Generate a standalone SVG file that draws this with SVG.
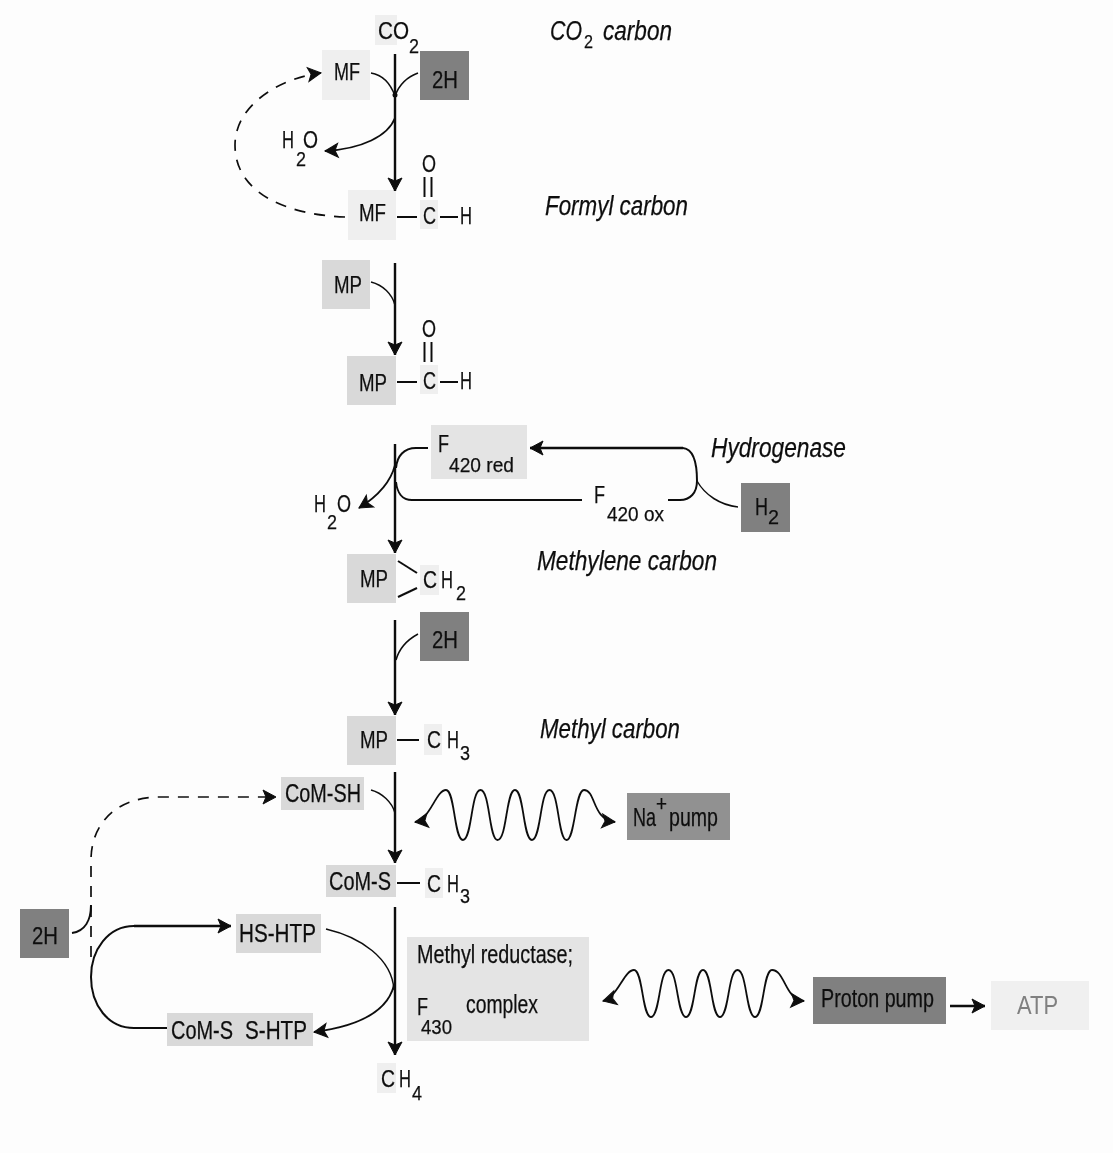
<svg xmlns="http://www.w3.org/2000/svg" width="1113" height="1153" viewBox="0 0 1113 1153">
<style>
text{font-family:"Liberation Sans",Arial,sans-serif;fill:#111;stroke:#111;stroke-width:.25;font-size:24px}
.s{font-size:21px}
.m{font-size:21px}
.k{font-size:25px}
.i{font-style:italic;font-size:27px}
.d{fill:#808080}
.l{fill:#d9d9d9}
.p{fill:#efefef}
.e{fill:#e4e4e4}
.c path,.c line{fill:none;stroke:#111;stroke-width:2}
.c circle{fill:#111}
.c .a{stroke-width:2.4;marker-end:url(#h)}
.c .f{stroke-width:1.8;marker-end:url(#h)}
.c .b{stroke-width:1.8;marker-start:url(#h);marker-end:url(#h)}
.c .t{stroke-width:1.5}
.c .n{stroke-dasharray:11 9;stroke-width:1.7;marker-end:url(#h)}
</style>
<defs>
<marker id="h" markerUnits="userSpaceOnUse" viewBox="-17 -9 19 18" refX="0" refY="0" markerWidth="19" markerHeight="18" orient="auto-start-reverse"><path d="M-13 -7L0 0L-13 7L-10 0Z" fill="#111" stroke="#111" stroke-width="1"/></marker>
<filter id="soft" x="0" y="0" width="100%" height="100%"><feGaussianBlur stdDeviation="0.45"/></filter>
</defs>
<rect width="1113" height="1153" fill="#fdfdfd"/>
<g filter="url(#soft)">
<g id="co2"><rect class="p" x="375" y="15" width="22" height="30"/><text x="378" y="39"><tspan textLength="31" lengthAdjust="spacingAndGlyphs">CO</tspan><tspan class="s" x="409" y="53" textLength="10" lengthAdjust="spacingAndGlyphs">2</tspan></text></g>
<g id="label-co2-carbon"><text class="i" x="550" y="40"><tspan textLength="32" lengthAdjust="spacingAndGlyphs">CO</tspan><tspan font-size="18" font-style="normal" x="584" y="48" textLength="9" lengthAdjust="spacingAndGlyphs">2</tspan><tspan x="603" y="40" textLength="69" lengthAdjust="spacingAndGlyphs">carbon</tspan></text></g>
<g id="mf-top"><rect class="p" x="322" y="50" width="48" height="50"/><text x="334" y="80" textLength="26" lengthAdjust="spacingAndGlyphs">MF</text></g>
<g id="h2-top"><rect class="d" x="420" y="51" width="49" height="49"/><text x="432" y="88" textLength="26" lengthAdjust="spacingAndGlyphs">2H</text></g>
<g id="h2o-top"><text x="282" y="148"><tspan textLength="12" lengthAdjust="spacingAndGlyphs">H</tspan><tspan class="s" x="296" y="166" textLength="10" lengthAdjust="spacingAndGlyphs">2</tspan><tspan x="303" y="148" textLength="15" lengthAdjust="spacingAndGlyphs">O</tspan></text></g>
<g id="mf-formyl"><rect class="p" x="348" y="190" width="48" height="50"/><rect class="p" x="420" y="200" width="18" height="29"/><text x="359" y="221" textLength="27" lengthAdjust="spacingAndGlyphs">MF</text><text x="423" y="224" textLength="13" lengthAdjust="spacingAndGlyphs">C</text><text x="460" y="224" textLength="12" lengthAdjust="spacingAndGlyphs">H</text><text x="422" y="172" textLength="14" lengthAdjust="spacingAndGlyphs">O</text></g>
<g id="label-formyl"><text class="i" x="545" y="215" textLength="143" lengthAdjust="spacingAndGlyphs">Formyl carbon</text></g>
<g id="mp-top"><rect class="l" x="322" y="260" width="48" height="49"/><text x="334" y="293" textLength="28" lengthAdjust="spacingAndGlyphs">MP</text></g>
<g id="mp-formyl"><rect class="l" x="347" y="356" width="49" height="49"/><rect class="p" x="420" y="365" width="18" height="29"/><text x="359" y="391" textLength="28" lengthAdjust="spacingAndGlyphs">MP</text><text x="423" y="389" textLength="13" lengthAdjust="spacingAndGlyphs">C</text><text x="460" y="389" textLength="12" lengthAdjust="spacingAndGlyphs">H</text><text x="422" y="337" textLength="14" lengthAdjust="spacingAndGlyphs">O</text></g>
<g id="f420-red"><rect class="e" x="431" y="425" width="96" height="54"/><text x="438" y="452"><tspan textLength="11" lengthAdjust="spacingAndGlyphs">F</tspan><tspan class="m" x="449" y="472" textLength="65" lengthAdjust="spacingAndGlyphs">420 red</tspan></text></g>
<g id="f420-ox"><text x="594" y="503"><tspan textLength="11" lengthAdjust="spacingAndGlyphs">F</tspan><tspan class="m" x="607" y="521" textLength="57" lengthAdjust="spacingAndGlyphs">420 ox</tspan></text></g>
<g id="label-hydrogenase"><text class="i" x="711" y="457" textLength="135" lengthAdjust="spacingAndGlyphs">Hydrogenase</text></g>
<g id="h2"><rect class="d" x="741" y="483" width="49" height="49"/><text x="755" y="515"><tspan textLength="13" lengthAdjust="spacingAndGlyphs">H</tspan><tspan class="s" x="768" y="524" textLength="11" lengthAdjust="spacingAndGlyphs">2</tspan></text></g>
<g id="h2o-mid"><text x="314" y="512"><tspan textLength="12" lengthAdjust="spacingAndGlyphs">H</tspan><tspan class="s" x="327" y="529" textLength="10" lengthAdjust="spacingAndGlyphs">2</tspan><tspan x="337" y="512" textLength="14" lengthAdjust="spacingAndGlyphs">O</tspan></text></g>
<g id="mp-ch2"><rect class="l" x="347" y="554" width="49" height="49"/><rect class="p" x="420" y="565" width="19" height="30"/><text x="360" y="587" textLength="28" lengthAdjust="spacingAndGlyphs">MP</text><text x="423" y="588"><tspan textLength="14" lengthAdjust="spacingAndGlyphs">C</tspan><tspan x="441" textLength="12" lengthAdjust="spacingAndGlyphs">H</tspan><tspan class="s" x="456" y="600" textLength="10" lengthAdjust="spacingAndGlyphs">2</tspan></text></g>
<g id="label-methylene"><text class="i" x="537" y="570" textLength="180" lengthAdjust="spacingAndGlyphs">Methylene carbon</text></g>
<g id="h2-mid"><rect class="d" x="420" y="612" width="49" height="49"/><text x="432" y="648" textLength="26" lengthAdjust="spacingAndGlyphs">2H</text></g>
<g id="mp-ch3"><rect class="l" x="347" y="716" width="49" height="49"/><rect class="p" x="424" y="724" width="18" height="31"/><text x="360" y="748" textLength="28" lengthAdjust="spacingAndGlyphs">MP</text><text x="427" y="748"><tspan textLength="14" lengthAdjust="spacingAndGlyphs">C</tspan><tspan x="447" textLength="12" lengthAdjust="spacingAndGlyphs">H</tspan><tspan class="s" x="460" y="760" textLength="10" lengthAdjust="spacingAndGlyphs">3</tspan></text></g>
<g id="label-methyl"><text class="i" x="540" y="738" textLength="140" lengthAdjust="spacingAndGlyphs">Methyl carbon</text></g>
<g id="com-sh"><rect class="l" x="281" y="777" width="83" height="33"/><text class="k" x="285" y="802" textLength="76" lengthAdjust="spacingAndGlyphs">CoM-SH</text></g>
<g id="na-pump"><rect fill="#919191" x="627" y="793" width="103" height="47"/><text class="k" x="633" y="826"><tspan textLength="23" lengthAdjust="spacingAndGlyphs">Na</tspan><tspan font-size="22" x="656" y="811" textLength="11" lengthAdjust="spacingAndGlyphs">+</tspan><tspan x="669" y="826" textLength="49" lengthAdjust="spacingAndGlyphs">pump</tspan></text></g>
<g id="com-s-ch3"><rect class="l" x="326" y="865" width="70" height="32"/><rect class="p" x="425" y="868" width="18" height="30"/><text class="k" x="329" y="890" textLength="62" lengthAdjust="spacingAndGlyphs">CoM-S</text><text x="427" y="892"><tspan textLength="14" lengthAdjust="spacingAndGlyphs">C</tspan><tspan x="447" textLength="12" lengthAdjust="spacingAndGlyphs">H</tspan><tspan class="s" x="460" y="903" textLength="10" lengthAdjust="spacingAndGlyphs">3</tspan></text></g>
<g id="h2-left"><rect class="d" x="20" y="909" width="49" height="49"/><text x="32" y="944" textLength="26" lengthAdjust="spacingAndGlyphs">2H</text></g>
<g id="hs-htp"><rect class="l" x="236" y="914" width="85" height="39"/><text class="k" x="239" y="942" textLength="77" lengthAdjust="spacingAndGlyphs">HS-HTP</text></g>
<g id="com-s-s-htp"><rect class="l" x="167" y="1013" width="146" height="33"/><text class="k" x="171" y="1039"><tspan textLength="62" lengthAdjust="spacingAndGlyphs">CoM-S</tspan><tspan x="245" textLength="62" lengthAdjust="spacingAndGlyphs">S-HTP</tspan></text></g>
<g id="methyl-reductase"><rect class="e" x="407" y="937" width="182" height="104"/><text class="k" x="417" y="963" textLength="156" lengthAdjust="spacingAndGlyphs">Methyl reductase;</text><text x="417" y="1015"><tspan textLength="11" lengthAdjust="spacingAndGlyphs">F</tspan><tspan class="m" x="421" y="1034" textLength="31" lengthAdjust="spacingAndGlyphs">430</tspan><tspan class="k" x="466" y="1013" textLength="72" lengthAdjust="spacingAndGlyphs">complex</tspan></text></g>
<g id="proton-pump"><rect class="d" x="813" y="977" width="133" height="47"/><text class="k" x="821" y="1007" textLength="113" lengthAdjust="spacingAndGlyphs">Proton pump</text></g>
<g id="atp"><rect fill="#f0f0f0" x="991" y="981" width="98" height="49"/><text class="k" x="1017" y="1014" textLength="41" lengthAdjust="spacingAndGlyphs" style="fill:#808080;stroke:none">ATP</text></g>
<g id="ch4"><rect class="p" x="377" y="1063" width="19" height="30"/><text x="381" y="1087"><tspan textLength="14" lengthAdjust="spacingAndGlyphs">C</tspan><tspan x="399" textLength="12" lengthAdjust="spacingAndGlyphs">H</tspan><tspan class="s" x="412" y="1100" textLength="10" lengthAdjust="spacingAndGlyphs">4</tspan></text></g>
<g id="connectors" class="c">
<path class="a" d="M395 54V191"/>
<path class="t" d="M371 73C383 75 391 85 395 96M418 73C407 77 399 85 395 96"/>
<circle cx="395" cy="95" r="2.500"/>
<path class="f" d="M395 118C388 136 362 149 325 151"/>
<path class="n" d="M345 217C290 215 235 195 235 145C235 105 280 78 321 73"/>
<line x1="397" y1="217" x2="417" y2="217"/><line x1="440" y1="217" x2="458" y2="217"/>
<line x1="424.500" y1="177" x2="424.500" y2="197"/><line x1="431.500" y1="177" x2="431.500" y2="197"/>
<path class="a" d="M395 263V355"/>
<path class="t" d="M371 282C383 285 392 294 395 305"/>
<line x1="397" y1="382" x2="417" y2="382"/><line x1="440" y1="382" x2="458" y2="382"/>
<line x1="424.500" y1="342" x2="424.500" y2="362"/><line x1="431.500" y1="342" x2="431.500" y2="362"/>
<path class="a" d="M395 444V553"/>
<path d="M428 448H416C404 448 397 456 396 468"/>
<path d="M396 482C397 492 402 500 412 500H582" stroke-width="2.200"/>
<path class="f" d="M395 465C390 485 375 498 359 508"/>
<path class="a" d="M683 448H530"/>
<path d="M683 448C692 449 697 460 697 481C697 493 690 500 680 500H668"/>
<path class="t" d="M697 481C705 495 720 505 738 507"/>
<line x1="398" y1="561" x2="417" y2="573"/><line x1="398" y1="597" x2="417" y2="588"/>
<path class="a" d="M395 620V715"/>
<path class="t" d="M418 634C407 640 399 649 396 660"/>
<line x1="397" y1="740" x2="419" y2="740"/>
<path class="a" d="M395 772V863"/>
<path class="t" d="M371 790C382 793 392 802 395 813"/>
<path class="b" d="M415 822C430 820 436 790 446 790C455 790 454 840 463 840C472 840 471 790 480.500 790C490 790 489 840 497.500 840C507 840 506 790 515 790C524 790 523 840 532 840C541 840 540 790 549.500 790C559 790 558 840 566.500 840C575 840 575 790 584 790C596 790 592 820 615 822"/>
<line x1="397" y1="883" x2="420" y2="883"/>
<path class="a" d="M395 907V1055"/>
<path d="M72 933C85 931 91 920 91 905"/>
<path class="n" d="M91 957V860C91 825 115 797 160 797H276"/>
<path d="M167 1028H134C108 1028 91 1005 91 977C91 950 108 926 134 926" stroke-width="1.800"/>
<path class="a" d="M134 926H231"/>
<path class="t" d="M326 929C360 937 392 958 394 990"/>
<path class="f" d="M394 985C388 1010 360 1026 314 1032"/>
<path class="b" d="M603 1001C618 997 624 970 634 970C643 970 642 1017 651 1017C660 1017 659 970 668.500 970C678 970 677 1017 686 1017C695 1017 694 970 703 970C712 970 711 1017 720 1017C729 1017 728 970 737.500 970C747 970 746 1017 755 1017C764 1017 763 970 772 970C785 970 785 1000 804 1001"/>
<path class="a" d="M950 1006H985"/>
</g>
</g>
</svg>
